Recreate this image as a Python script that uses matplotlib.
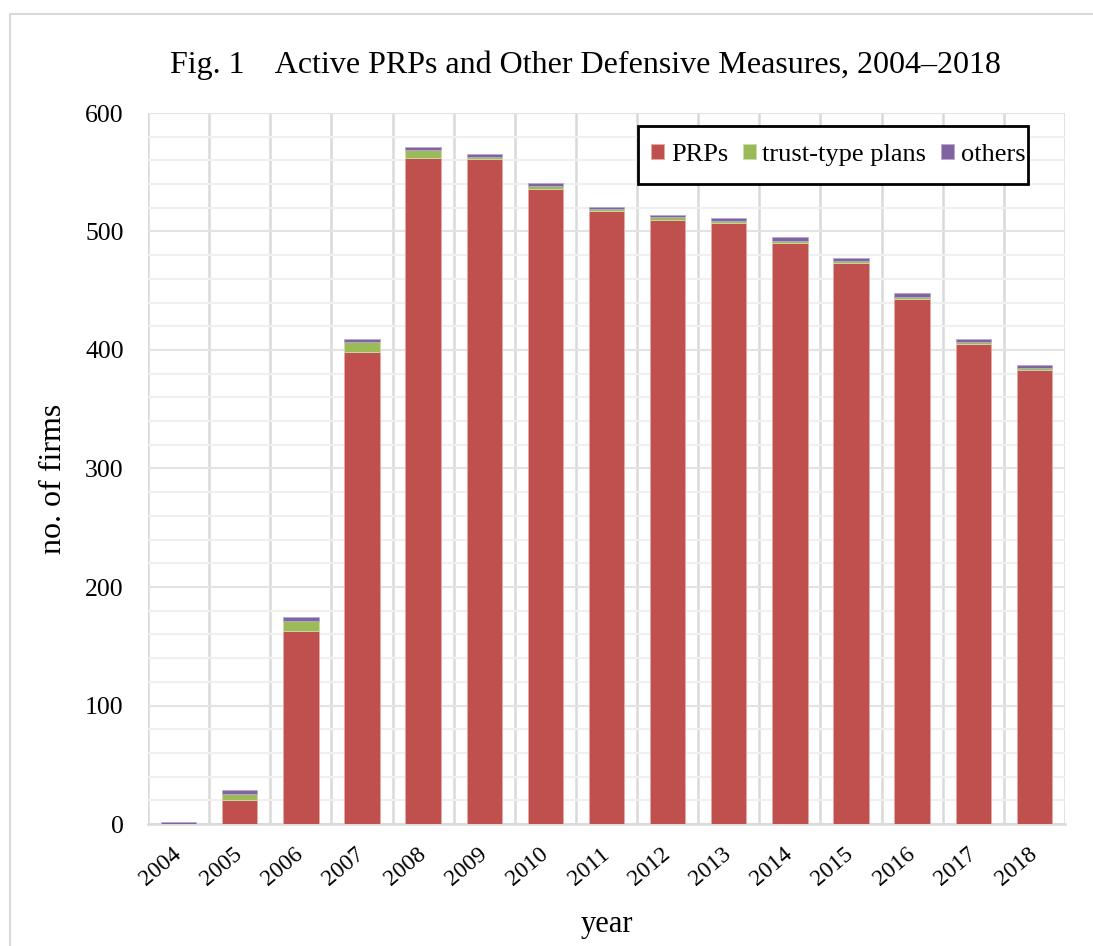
import matplotlib
matplotlib.use("Agg")
import matplotlib.pyplot as plt
import numpy as np
from matplotlib.patches import Rectangle

years = ["2004", "2005", "2006", "2007", "2008", "2009", "2010", "2011",
         "2012", "2013", "2014", "2015", "2016", "2017", "2018"]
prps = [0, 20, 163, 398, 562, 561, 536, 517, 510, 507, 490, 473, 443, 405, 383]
trust = [0, 5, 8, 9, 7, 2, 2, 2, 2, 2, 2, 2, 2, 2, 2]
others = [2, 4, 4, 2, 2, 2, 3, 2, 2, 2, 3, 3, 3, 2, 2]

plt.rcParams['font.family'] = ['Liberation Serif', 'DejaVu Serif']

fig = plt.figure(figsize=(10.93, 9.46), dpi=100)
W, H = 1093, 946
ax = fig.add_axes([148 / W, 1 - 824 / H, (1065 - 148) / W, (824 - 113) / H])

# outer border
fig.patches.append(Rectangle((10 / W, -0.1), 1.2, 1 - 14 / H + 0.1, transform=fig.transFigure,
                             fill=False, edgecolor='#d9d9d9', linewidth=1.5))

x = np.arange(len(years))
bw = 0.58
c_prp, c_tr, c_ot = '#C0504D', '#9BBB59', '#8064A2'
ax.bar(x, prps, bw, color=c_prp, edgecolor='#e8a8a6', linewidth=0.6, label='PRPs', zorder=3)
ax.bar(x, trust, bw, bottom=prps, color=c_tr, edgecolor='#c8dca8', linewidth=0.6,
       label='trust-type plans', zorder=3)
bot2 = np.array(prps) + np.array(trust)
ax.bar(x, others, bw, bottom=bot2, color=c_ot, edgecolor='#b8a8cc', linewidth=0.6,
       label='others', zorder=3)

ax.set_xlim(-0.5, len(years) - 0.5)
ax.set_ylim(0, 600)
ax.set_yticks(np.arange(0, 601, 100))
ax.set_yticks(np.arange(0, 601, 20), minor=True)
ax.yaxis.grid(True, which='minor', color='#f0f0f0', linewidth=1.5, zorder=0)
ax.yaxis.grid(True, which='major', color='#e3e3e3', linewidth=1.5, zorder=1)
ax.set_xticks(x)
ax.set_xticks(np.arange(-0.5, len(years), 1), minor=True)
ax.xaxis.grid(True, which='minor', color='#d9d9d9', linewidth=1.8, zorder=1)
ax.xaxis.grid(False, which='major')
ax.set_xticklabels(years, rotation=40, fontsize=17, ha='right', va='center',
                   rotation_mode='anchor')
for lbl in ax.get_yticklabels():
    lbl.set_fontsize(18.5)
ax.tick_params(axis='both', which='both', length=0)
ax.tick_params(axis='y', pad=17.5)
ax.tick_params(axis='x', pad=20)
for s in ['top', 'right', 'left']:
    ax.spines[s].set_visible(False)
ax.spines['bottom'].set_color('#d9d9d9')
ax.spines['bottom'].set_linewidth(1.8)

ax.set_ylabel('no. of firms', fontsize=23, labelpad=12)
ax.yaxis.label.set_y((824 - 479) / (824 - 113))
ax.set_xlabel('year', fontsize=22, labelpad=14)
fig.text(585 / W, 1 - 65 / H, 'Fig. 1    Active PRPs and Other Defensive Measures, 2004\u20132018',
         fontsize=23, ha='center', va='center')

# legend box drawn at exact pixel position
fig.patches.append(Rectangle((638 / W, 1 - 184 / H), (1028 - 638) / W, (184 - 126) / H,
                             transform=fig.transFigure, facecolor='white', edgecolor='black',
                             linewidth=2, zorder=4))
leg = fig.legend(*ax.get_legend_handles_labels(), loc='center left',
                 bbox_to_anchor=(651 / W, 1 - 155 / H),
                 ncol=3, fontsize=19, frameon=False, handlelength=0.5, handleheight=0.5,
                 handletextpad=0.25, columnspacing=0.55, borderpad=0, borderaxespad=0)
leg.set_zorder(5)

fig.savefig('out.png', dpi=100)
